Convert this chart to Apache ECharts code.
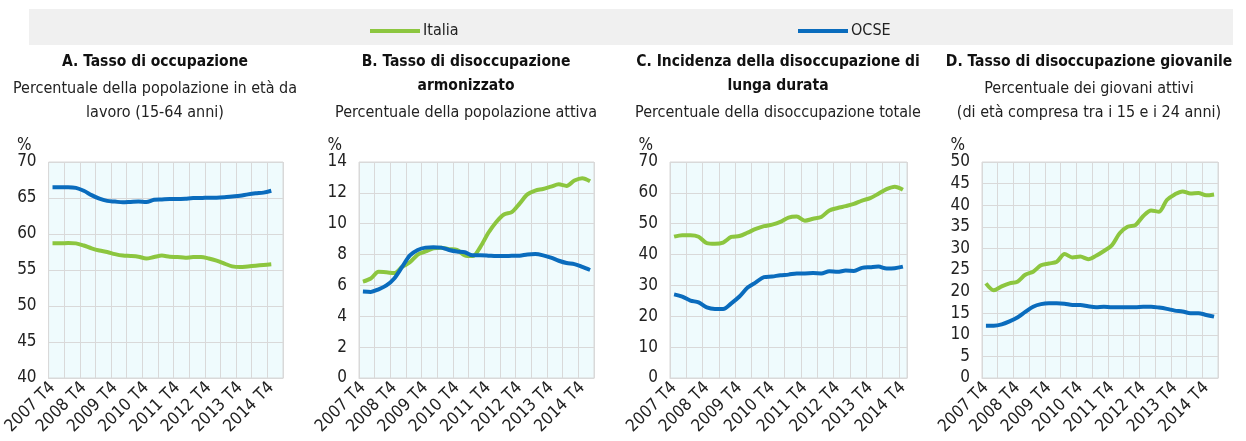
<!DOCTYPE html>
<html>
<head>
<meta charset="utf-8">
<script src="https://cdn.jsdelivr.net/npm/echarts@6/dist/echarts.min.js"></script>
<style>
  html, body { margin: 0; padding: 0; background: #fff; }
  #chart { width: 1246px; height: 441px; }
</style>
</head>
<body>
<div id="chart"></div>
<script>
const quarters = [
  '2007 T4',
  '2008 T1', '2008 T2', '2008 T3', '2008 T4',
  '2009 T1', '2009 T2', '2009 T3', '2009 T4',
  '2010 T1', '2010 T2', '2010 T3', '2010 T4',
  '2011 T1', '2011 T2', '2011 T3', '2011 T4',
  '2012 T1', '2012 T2', '2012 T3', '2012 T4',
  '2013 T1', '2013 T2', '2013 T3', '2013 T4',
  '2014 T1', '2014 T2', '2014 T3', '2014 T4',
  '2015 T1'
]
const quartersC = quarters.slice(0, 29)

// A. tasso di occupazione
const occItalia = [58.7, 58.7, 58.75, 58.7, 58.4, 58.0, 57.7, 57.5, 57.2, 57.0, 56.95, 56.85, 56.6, 56.8, 57.0,
  56.85, 56.8, 56.7, 56.8, 56.8, 56.6, 56.3, 55.9, 55.5, 55.4, 55.5, 55.6, 55.7, 55.8]
const occOcse = [66.5, 66.5, 66.5, 66.4, 66.0, 65.4, 64.9, 64.6, 64.5, 64.4, 64.45, 64.5, 64.45, 64.75, 64.8,
  64.85, 64.85, 64.9, 65.0, 65.0, 65.05, 65.05, 65.1, 65.2, 65.3, 65.5, 65.65, 65.75, 66.0]

// B. tasso di disoccupazione armonizzato
const disItalia = [6.25, 6.45, 6.88, 6.85, 6.8, 7.2, 7.5, 8.0, 8.2, 8.4, 8.45, 8.35, 8.3, 7.95, 7.9,
  8.5, 9.4, 10.1, 10.6, 10.75, 11.3, 11.9, 12.15, 12.25, 12.4, 12.55, 12.45, 12.8, 12.95, 12.75]
const disOcse = [5.6, 5.58, 5.75, 6.0, 6.45, 7.2, 7.95, 8.3, 8.45, 8.47, 8.45, 8.3, 8.2, 8.15, 7.95,
  7.95, 7.93, 7.9, 7.9, 7.92, 7.93, 8.0, 8.03, 7.95, 7.8, 7.6, 7.45, 7.38, 7.2, 7.0]

// C. incidenza della disoccupazione di lunga durata
const lungaItalia = [45.8, 46.3, 46.3, 45.8, 43.7, 43.5, 43.9, 45.7, 46.0, 47.1, 48.3, 49.2, 49.7, 50.6, 52.0,
  52.3, 51.0, 51.6, 52.2, 54.3, 55.1, 55.7, 56.4, 57.5, 58.3, 59.7, 61.2, 62.0, 61.0]
const lungaOcse = [27.1, 26.4, 25.1, 24.5, 22.9, 22.4, 22.4, 24.2, 26.4, 29.3, 31.0, 32.7, 32.9, 33.3, 33.5,
  33.9, 33.9, 34.0, 33.9, 34.6, 34.4, 34.8, 34.7, 35.7, 35.9, 36.1, 35.5, 35.6, 36.1]

// D. tasso di disoccupazione giovanile
const giovItalia = [21.9, 20.3, 21.2, 21.9, 22.3, 23.9, 24.6, 26.1, 26.5, 26.9, 28.7, 27.9, 28.1, 27.5, 28.3,
  29.4, 30.7, 33.5, 35.0, 35.4, 37.5, 38.8, 38.5, 41.2, 42.5, 43.2, 42.7, 42.8, 42.3, 42.5]
const giovOcse = [12.1, 12.1, 12.4, 13.1, 14.0, 15.3, 16.5, 17.1, 17.3, 17.3, 17.2, 16.9, 16.9, 16.6, 16.4,
  16.5, 16.4, 16.4, 16.4, 16.4, 16.5, 16.5, 16.3, 16.0, 15.6, 15.4, 15.0, 15.0, 14.6, 14.2]

const titles = [
  'A. Tasso di occupazione',
  'B. Tasso di disoccupazione\narmonizzato',
  'C. Incidenza della disoccupazione di\nlunga durata',
  'D. Tasso di disoccupazione giovanile'
]
const subtitles = [
  'Percentuale della popolazione in età da\nlavoro (15-64 anni)',
  'Percentuale della popolazione attiva',
  'Percentuale della disoccupazione totale',
  'Percentuale dei giovani attivi\n(di età compresa tra i 15 e i 24 anni)'
]
const yMin = [40, 0, 0, 0]
const yMax = [70, 14, 70, 50]
const yStep = [5, 2, 10, 5]

const FONT = "'Liberation Sans Narrow', 'Arial Narrow', 'DejaVu Sans Condensed', sans-serif"
const GREEN = '#8cc63f'
const BLUE = '#0a6cbd'
const GRID_LINE = '#d9d9d9'

const panels = [
  { left: 45, width: 238, cats: quarters, italia: occItalia, ocse: occOcse, center: 155 },
  { left: 359, width: 235, cats: quarters, italia: disItalia, ocse: disOcse, center: 466 },
  { left: 670, width: 237, cats: quartersC, italia: lungaItalia, ocse: lungaOcse, center: 778 },
  { left: 982, width: 236, cats: quarters, italia: giovItalia, ocse: giovOcse, center: 1089 }
]

const chart = echarts.init(document.getElementById('chart'))

const grid = panels.map(p => ({
  left: p.left,
  width: p.width,
  top: 162,
  height: 216,
  show: true,
  backgroundColor: '#effbfd',
  borderColor: GRID_LINE,
  borderWidth: 1
}))

const xAxis = panels.map((p, i) => ({
  type: 'category',
  gridIndex: i,
  data: p.cats,
  boundaryGap: true,
  axisLine: { lineStyle: { color: GRID_LINE } },
  axisTick: { show: false },
  splitLine: { show: true, interval: 1, lineStyle: { color: GRID_LINE } },
  axisLabel: {
    interval: 3,
    rotate: 45,
    margin: 7,
    color: '#222',
    fontFamily: FONT,
    fontSize: 17
  }
}))

const yAxis = panels.map((p, i) => ({
  type: 'value',
  gridIndex: i,
  min: yMin[i],
  max: yMax[i],
  interval: yStep[i],
  name: '%',
  nameLocation: 'end',
  nameGap: 8,
  nameTextStyle: {
    color: '#222',
    fontFamily: FONT,
    fontSize: 17,
    align: 'right',
    padding: [0, 17, 0, 0]
  },
  axisLine: { show: false },
  axisTick: { show: false },
  splitLine: { lineStyle: { color: GRID_LINE } },
  axisLabel: {
    margin: 12,
    color: '#222',
    fontFamily: FONT,
    fontSize: 17
  }
}))

const series = []
panels.forEach((p, i) => {
  series.push({
    name: 'Italia',
    type: 'line',
    xAxisIndex: i,
    yAxisIndex: i,
    data: p.italia,
    smooth: 0.3,
    showSymbol: false,
    lineStyle: { color: GREEN, width: 4 },
    itemStyle: { color: GREEN }
  })
  series.push({
    name: 'OCSE',
    type: 'line',
    xAxisIndex: i,
    yAxisIndex: i,
    data: p.ocse,
    smooth: 0.3,
    showSymbol: false,
    lineStyle: { color: BLUE, width: 4 },
    itemStyle: { color: BLUE }
  })
})

const title = panels.map((p, i) => ({
  text: titles[i],
  subtext: subtitles[i],
  left: p.center,
  top: 50,
  textAlign: 'center',
  padding: 0,
  itemGap: 3,
  textStyle: {
    color: '#111',
    fontFamily: FONT,
    fontSize: 15.5,
    fontWeight: 'bold',
    lineHeight: 24
  },
  subtextStyle: {
    color: '#222',
    fontFamily: FONT,
    fontSize: 16,
    lineHeight: 24
  }
}))

const legendBase = {
  top: 18,
  icon: 'rect',
  itemWidth: 50,
  itemHeight: 4,
  itemGap: 3,
  itemStyle: { borderWidth: 0 },
  textStyle: { color: '#222', fontFamily: FONT, fontSize: 16, padding: [0, 0, 0, -2] }
}

chart.setOption({
  animation: false,
  backgroundColor: '#fff',
  graphic: [{
    type: 'rect',
    z: -1,
    shape: { x: 29, y: 9, width: 1204, height: 36 },
    style: { fill: '#f0f0f0' }
  }],
  title,
  legend: [
    Object.assign({ data: ['Italia'], left: 365 }, legendBase),
    Object.assign({ data: ['OCSE'], left: 793 }, legendBase)
  ],
  grid,
  xAxis,
  yAxis,
  series
})
</script>
</body>
</html>
